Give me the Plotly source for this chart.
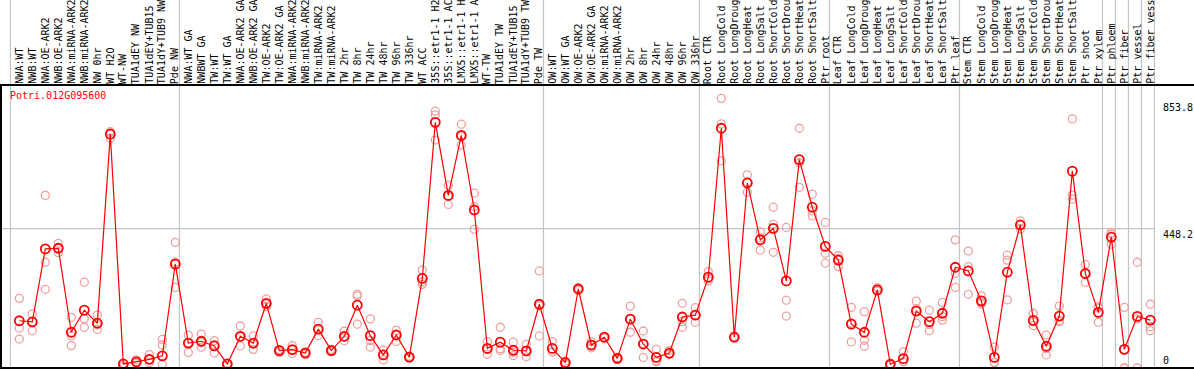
import plotly.graph_objects as go

# ---------------- data ----------------
labels = [
    "NWA:WT", "NWB:WT", "NWA:OE-ARK2", "NWB:OE-ARK2", "NWA:miRNA-ARK2", "NWB:miRNA-ARK2",
    "NW 0hr", "WT H2O", "WT-NW", "TUA1dEY NW", "TUA1dEY+TUB15", "TUA1dY+TUB9 NW", "Pde NW",
    "NWA:WT GA", "NWBWT GA", "TW:WT", "TW:WT GA", "NWA:OE-ARK2 GA", "NWB:OE-ARK2 GA",
    "TW:OE-ARK2", "TW:OE-ARK2 GA", "NWA:miRNA-ARK2", "NWB:miRNA-ARK2", "TW:miRNA-ARK2",
    "TW:miRNA-ARK2", "TW 2hr", "TW 8hr", "TW 24hr", "TW 48hr", "TW 96hr", "TW 336hr",
    "WT ACC", "35S::etr1-1 H2", "35S::etr1-1 AC", "LMX5::etr1-1 H", "LMX5::etr1-1 A",
    "WT-TW", "TUA1dEY TW", "TUA1dEY+TUB15", "TUA1dY+TUB9 TW", "Pde TW",
    "OW:WT", "OW:WT GA", "OW:OE-ARK2", "OW:OE-ARK2 GA", "OW:miRNA-ARK2", "OW:miRNA-ARK2",
    "OW 2hr", "OW 8hr", "OW 24hr", "OW 48hr", "OW 96hr", "OW 336hr",
    "Root CTR", "Root LongCold", "Root LongDroug", "Root LongHeat", "Root LongSalt",
    "Root ShortCold", "Root ShortDrou", "Root ShortHeat", "Root ShortSalt", "Ptr root",
    "Leaf CTR", "Leaf LongCold", "Leaf LongDroug", "Leaf LongHeat", "Leaf LongSalt",
    "Leaf ShortCold", "Leaf ShortDrou", "Leaf ShortHeat", "Leaf ShortSalt", "Ptr leaf",
    "Stem CTR", "Stem LongCold", "Stem LongDroug", "Stem LongHeat", "Stem LongSalt",
    "Stem ShortCold", "Stem ShortDrou", "Stem ShortHeat", "Stem ShortSalt", "Ptr shoot",
    "Ptr xylem", "Ptr phloem", "Ptr fiber", "Ptr vessel", "Ptr fiber vess",
]

mean_vals = [
    152, 148, 383, 385, 115, 186, 144, 752, 13, 20, 28, 39, 334,
    80, 86, 71, 13, 102, 80, 208, 56, 59, 48, 125, 56, 102, 202, 104, 42, 106, 35,
    288, 790, 555, 748, 508, 63, 83, 57, 55, 205,
    63, 17, 254, 74, 99, 31, 157, 77, 34, 48, 164, 170,
    292, 771, 99, 595, 412, 449, 280, 670, 517, 391,
    347, 141, 115, 251, 12, 30, 183, 149, 176, 324,
    312, 216, 34, 308, 460, 153, 70, 167, 633, 304, 179,
    421, 60, 166, 154,
]

rep1 = [
    224, 174, 555, 401, 163, 276, 170, 760, 15, 26, 43, 92, 404,
    106, 109, 88, 12, 135, 103, 222, 56, 72, 48, 147, 56, 119, 237, 158, 42, 121, 35,
    315, 826, 588, 784, 562, 85, 131, 83, 76, 312,
    85, 17, 254, 85, 99, 31, 199, 119, 60, 56, 208, 194,
    310, 867, 97, 621, 438, 517, 452, 771, 559, 468,
    361, 195, 181, 258, 12, 52, 215, 186, 211, 412,
    376, 232, 67, 363, 473, 176, 106, 199, 801, 333, 197,
    436, 195, 340, 205,
]
rep2 = [
    128, 120, 340, 371, 103, 158, 124, 739, 6, 15, 17, 74, 259,
    50, 67, 48, 15, 71, 60, 197, 50, 47, 45, 104, 52, 88, 232, 67, 26, 85, 33,
    277, 814, 526, 717, 519, 44, 56, 40, 36, 103,
    52, 12, 250, 65, 96, 28, 115, 34, 23, 45, 149, 147,
    280, 785, 102, 565, 379, 462, 218, 581, 489, 369,
    326, 84, 89, 250, 10, 20, 144, 120, 154, 304,
    326, 210, 18, 347, 447, 136, 42, 149, 556, 276, 147,
    398, 0, 0, 133,
]
rep3 = [
    93, 148, 253, 385, 72, 131, 139, 757, 13, 19, 26, 12, 340,
    80, 82, 75, 10, 100, 77, 205, 60, 58, 51, 125, 60, 100, 141, 88, 58, 110, 38,
    269, 733, 552, 745, 446, 60, 62, 50, 53, 200,
    52, 22, 258, 72, 102, 34, 157, 77, 20, 44, 131, 170,
    287, 666, 99, 598, 418, 372, 167, 660, 505, 337,
    352, 145, 70, 247, 14, 20, 190, 140, 165, 259,
    237, 206, 18, 219, 460, 148, 62, 153, 543, 303, 193,
    430, 0, 158, 120,
]

group_starts = [0, 13, 41, 53, 63, 73, 84, 85, 86, 87, 88]
grid_value = 448.2
y_tick_vals = [853.8, 448.2, 0]
y_tick_text = ["853.8", "448.2", "0"]
title_text = "Potri.012G095600"

# ---------------- layout constants ----------------
W, H = 1194, 370
ML, MR, MT, MB = 1, 0, 85, 2
X_RANGE = [-1.408, 90.36]
Y_RANGE = [0, 910]
MONO = "DejaVu Sans Mono, monospace"
PLOT_H = H - MT - MB


def px_to_paper_x(px):
    return (px - ML) / (W - ML - MR)


xs = list(range(len(labels)))

fig = go.Figure()

# replicate points (light)
rep_x = xs + xs + xs
rep_y = rep1 + rep2 + rep3
fig.add_trace(go.Scatter(
    x=rep_x, y=rep_y, mode="markers",
    marker=dict(symbol="circle-open", size=8, color="#f0a0a0", line=dict(width=1.3)),
    hoverinfo="skip", showlegend=False,
))

# mean line + markers
fig.add_trace(go.Scatter(
    x=xs, y=mean_vals, mode="lines+markers",
    line=dict(color="#ff0000", width=1.2),
    marker=dict(symbol="circle-open", size=9, color="#ff0000", line=dict(width=1.8)),
    showlegend=False,
))

shapes = []
top_paper = 1 + MT / PLOT_H
# vertical group separators
for k in group_starts:
    shapes.append(dict(type="line", xref="x", yref="paper",
                       x0=k - 0.68, x1=k - 0.68, y0=0, y1=top_paper,
                       line=dict(color="#c4c4c4", width=1.2), layer="below"))
# horizontal grid line
shapes.append(dict(type="line", xref="x", yref="y",
                   x0=X_RANGE[0], x1=group_starts[-1] - 0.68, y0=grid_value, y1=grid_value,
                   line=dict(color="#c4c4c4", width=1.2), layer="below"))
# frame
shapes.append(dict(type="line", xref="paper", yref="paper", x0=-0.01, x1=1.01, y0=1, y1=1,
                   line=dict(color="black", width=2)))
shapes.append(dict(type="line", xref="paper", yref="paper", x0=-0.01, x1=1.01, y0=0, y1=0,
                   line=dict(color="black", width=2)))
shapes.append(dict(type="line", xref="paper", yref="paper", x0=0, x1=0, y0=0, y1=1,
                   line=dict(color="black", width=2)))

annotations = []
for i, lab in enumerate(labels):
    annotations.append(dict(
        x=i - 0.05, y=1, xref="x", yref="paper", text=lab, showarrow=False,
        textangle=-90, xanchor="center", yanchor="bottom", yshift=0, borderpad=0,
        font=dict(family=MONO, size=10, color="black"),
    ))

annotations.append(dict(
    x=px_to_paper_x(9), y=1, xref="paper", yref="paper", text=title_text, showarrow=False,
    xanchor="left", yanchor="top", yshift=-4, borderpad=0,
    font=dict(family=MONO, size=10, color="#ff0000"),
))

for v, t in zip(y_tick_vals, y_tick_text):
    if v == 0:
        annotations.append(dict(
            x=px_to_paper_x(1162), y=v, xref="paper", yref="y", text=t, showarrow=False,
            xanchor="left", yanchor="bottom", yshift=1, borderpad=0,
            font=dict(family=MONO, size=10, color="black"),
        ))
    else:
        annotations.append(dict(
            x=px_to_paper_x(1162), y=v, xref="paper", yref="y", text=t, showarrow=False,
            xanchor="left", yanchor="top", yshift=1, borderpad=0,
            font=dict(family=MONO, size=10, color="black"),
        ))

fig.update_layout(
    width=W, height=H,
    margin=dict(l=ML, r=MR, t=MT, b=MB, pad=0),
    paper_bgcolor="white", plot_bgcolor="white",
    xaxis=dict(range=X_RANGE, visible=False, fixedrange=True),
    yaxis=dict(range=Y_RANGE, visible=False, fixedrange=True),
    shapes=shapes, annotations=annotations,
    showlegend=False,
)

fig.write_html(
    "out.html",
    config={"displayModeBar": False},
    post_script="document.body.style.margin='0';document.body.style.overflow='hidden';",
)
